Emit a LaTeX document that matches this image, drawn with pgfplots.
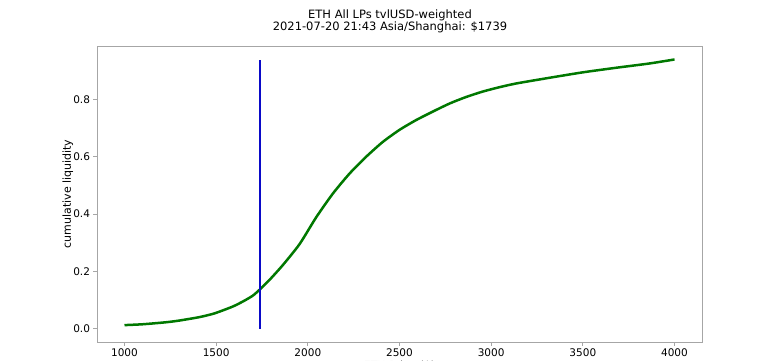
\documentclass[border=0pt]{standalone}
\usepackage{pgfplots}
\pgfplotsset{compat=1.18}
\usepackage{fontspec}
\setmainfont{DejaVu Sans}
\definecolor{lgreen}{RGB}{0,120,0}
\definecolor{lblue}{RGB}{10,10,200}
\begin{document}
\begin{tikzpicture}[x=1pt,y=1pt]
\begin{axis}[
  scale only axis, width=605, height=296,
  xmin=850, xmax=4150, ymin=-0.047, ymax=0.987,
  xtick={1000,1500,...,4000},
  ytick={0,0.2,0.4,0.6,0.8},
  yticklabel style={/pgf/number format/fixed,/pgf/number format/fixed zerofill,/pgf/number format/precision=1},
  xticklabel style={/pgf/number format/1000 sep={}},
  /pgf/number format/assume math mode=true,
  tick label style={font=\fontsize{10.5}{12}\selectfont},
  label style={font=\fontsize{11}{13}\selectfont},
  xlabel={ETH Price (\$)},
  ylabel={cumulative liquidity},
  ylabel style={at={(axis description cs:-0.048,0.5)}, anchor=center},
  xlabel style={at={(axis description cs:0.5,-0.052)}, anchor=north},
  tick align=outside, major tick length=3.5pt,
  axis line style={gray!70, line width=0.8pt},
  tick style={gray!70, line width=0.8pt},
  xtick pos=bottom, ytick pos=left,
  clip=false,
]
\coordinate (bl) at (rel axis cs:0,0);
\addplot[lgreen, line width=2.5pt, line join=round, smooth, tension=0.4] coordinates {
(1000,0.012) (1100,0.015) (1227,0.022) (1300,0.028) (1409,0.040) (1491,0.053)
(1591,0.077) (1650,0.096) (1700,0.115) (1739,0.137) (1791,0.170) (1864,0.222)
(1955,0.295) (2045,0.388) (2136,0.471) (2227,0.541) (2318,0.600) (2409,0.652)
(2500,0.694) (2590,0.728) (2682,0.758) (2773,0.786) (2864,0.809) (2955,0.828)
(3045,0.843) (3136,0.856) (3318,0.876) (3500,0.895) (3682,0.911) (3864,0.926) (4000,0.940)
};
\addplot[lblue, line width=2.5pt] coordinates {(1739,0) (1739,0.938)};
\end{axis}
\node[font=\fontsize{11.5}{13}\selectfont, align=center] at ([shift={(293,321)}]bl) {ETH All LPs tvlUSD-weighted\\[-1pt]2021-07-20 21:43 Asia/Shanghai: \$1739};
\pgfresetboundingbox
\path[use as bounding box] ([shift={(-97,-18)}]bl) rectangle ([shift={(683,342)}]bl);
\end{tikzpicture}
\end{document}
